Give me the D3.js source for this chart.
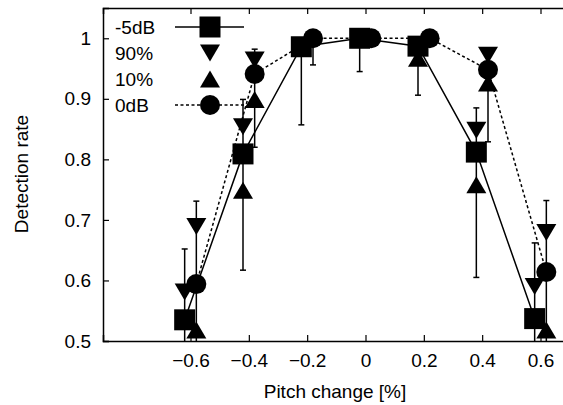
<!DOCTYPE html>
<html lang="en">
<head>
    <meta charset="utf-8">
    <script src="https://d3js.org/d3.v7.min.js"></script>
    <style>
        body { margin: 0; background: #fff; }
        svg text { font-family: "Liberation Sans", Arial, Helvetica, sans-serif; font-size: 19px; fill: #000; }
    </style>
</head>
<body>
<script type="text/javascript">

    // pitch change positions (the two conditions are drawn slightly apart)
    let x5 = [-0.62, -0.42, -0.22, -0.02, 0.18, 0.38, 0.58];
    let x0 = [-0.58, -0.38, -0.18, 0.02, 0.22, 0.42, 0.62];

    // -5dB condition
    let mean5 = [0.535, 0.809, 0.986, 1.0, 0.987, 0.812, 0.537];
    let lo5   = [0.45, 0.617, 0.857, 0.945, 0.906, 0.605, 0.45];
    let hi5   = [0.652, 0.899, 1.0, 1.0, 1.0, 0.885, 0.662];
    let p90_5 = [0.581, 0.854, null, null, null, 0.848, 0.590];
    let p10_5 = [null, 0.749, null, null, 0.967, 0.758, null];

    // 0dB condition
    let mean0 = [0.594, 0.941, 1.0, 1.0, 1.0, 0.948, 0.614];
    let lo0   = [0.45, 0.820, 0.956, 1.0, 1.0, 0.829, 0.45];
    let hi0   = [0.731, 0.982, 1.0, 1.0, 1.0, 0.982, 0.732];
    let p90_0 = [0.689, 0.964, null, null, null, 0.972, 0.679];
    let p10_0 = [0.518, 0.899, null, null, null, 0.926, 0.518];

    let xTicks = [-0.6, -0.4, -0.2, 0, 0.2, 0.4, 0.6];
    let yTicks = [0.5, 0.6, 0.7, 0.8, 0.9, 1];
    let legendNames = ["-5dB", "90%", "10%", "0dB"];

    let w = 563;
    let h = 405;

    let x = d3.scaleLinear().domain([-0.9, 0.9]).range([103, 628]);
    let y = d3.scaleLinear().domain([0.5, 1.05]).range([341, 8]);

    let svg = d3.select("body").append("svg")
                .attr("width", w)
                .attr("height", h);

    svg.append("clipPath").attr("id", "plotclip")
        .append("rect")
        .attr("x", 103).attr("y", 8)
        .attr("width", 525).attr("height", 333);

    // axes, ticks pointing inward
    let fmt = function(d) { return d === 0 ? "0" : (d === 1 ? "1" : d3.format(".1f")(d)); };

    let gx = svg.append("g").attr("transform", "translate(0,341)")
        .call(d3.axisBottom(x).tickValues(xTicks).tickSize(-6).tickPadding(13).tickFormat(fmt));
    let gxt = svg.append("g").attr("transform", "translate(0,8)")
        .call(d3.axisTop(x).tickValues(xTicks).tickSize(-6).tickFormat(""));
    let gy = svg.append("g").attr("transform", "translate(103,0)")
        .call(d3.axisLeft(y).tickValues(yTicks).tickSize(-6).tickPadding(12).tickFormat(fmt));

    [gx, gxt, gy].forEach(function(g) {
        g.select(".domain").attr("stroke", "#000").attr("stroke-width", 1.5);
        g.selectAll(".tick line").attr("stroke", "#000").attr("stroke-width", 1.2);
        g.selectAll("text").attr("font-size", null).attr("font-family", null);
    });

    svg.append("text").attr("x", 335).attr("y", 398)
        .attr("text-anchor", "middle").text("Pitch change [%]");
    svg.append("text").attr("transform", "translate(28,174) rotate(-90)")
        .attr("text-anchor", "middle").text("Detection rate");

    // marker shapes
    let square = d3.symbol().type(d3.symbolSquare).size(21 * 21);
    let circle = d3.symbol().type(d3.symbolCircle).size(Math.PI * 10 * 10);
    let triDown = "M-10,-8.5L10,-8.5L0,8.5Z";
    let triUp = "M-10,8.5L10,8.5L0,-8.5Z";

    let plot = svg.append("g").attr("clip-path", "url(#plotclip)");

    function drawSeries(xs, mean, lo, hi, p90, p10, shape, dash) {
        let pts = xs.map(function(d, i) {
            return {x: d, m: mean[i], lo: lo[i], hi: hi[i], p90: p90[i], p10: p10[i]};
        });

        let line = d3.line().x(function(d) { return x(d.x); }).y(function(d) { return y(d.m); });
        plot.append("path").datum(pts)
            .attr("d", line)
            .attr("fill", "none")
            .attr("stroke", "#000")
            .attr("stroke-width", 1.5)
            .attr("stroke-dasharray", dash);

        let eb = plot.append("g").attr("stroke", "#000").attr("stroke-width", 1.5);
        pts.forEach(function(d) {
            if (d.hi - d.lo < 0.001) return;
            eb.append("line").attr("x1", x(d.x)).attr("x2", x(d.x))
                .attr("y1", y(d.lo)).attr("y2", y(d.hi));
            [d.lo, d.hi].forEach(function(v) {
                eb.append("line").attr("x1", x(d.x) - 3).attr("x2", x(d.x) + 3)
                    .attr("y1", y(v)).attr("y2", y(v));
            });
        });

        plot.append("g").selectAll("path").data(pts.filter(function(d) { return d.p90 !== null; }))
            .join("path")
            .attr("d", triDown)
            .attr("transform", function(d) { return "translate(" + x(d.x) + "," + y(d.p90) + ")"; });
        plot.append("g").selectAll("path").data(pts.filter(function(d) { return d.p10 !== null; }))
            .join("path")
            .attr("d", triUp)
            .attr("transform", function(d) { return "translate(" + x(d.x) + "," + y(d.p10) + ")"; });

        plot.append("g").selectAll("path").data(pts)
            .join("path")
            .attr("d", shape)
            .attr("transform", function(d) { return "translate(" + x(d.x) + "," + y(d.m) + ")"; });
    }

    drawSeries(x5, mean5, lo5, hi5, p90_5, p10_5, square, null);
    drawSeries(x0, mean0, lo0, hi0, p90_0, p10_0, circle, "3,2.5");

    // legend
    let legY = [27, 53, 79, 105];
    let leg = svg.append("g");
    leg.selectAll("text").data(legendNames).join("text")
        .attr("x", 115).attr("y", function(d, i) { return legY[i] + 7; })
        .text(function(d) { return d; });

    leg.append("line").attr("x1", 175).attr("x2", 244).attr("y1", legY[0]).attr("y2", legY[0])
        .attr("stroke", "#000").attr("stroke-width", 1.5);
    leg.append("path").attr("d", square).attr("transform", "translate(210," + legY[0] + ")");
    leg.append("path").attr("d", triDown).attr("transform", "translate(210," + legY[1] + ")");
    leg.append("path").attr("d", triUp).attr("transform", "translate(210," + legY[2] + ")");
    leg.append("line").attr("x1", 175).attr("x2", 244).attr("y1", legY[3]).attr("y2", legY[3])
        .attr("stroke", "#000").attr("stroke-width", 1.5).attr("stroke-dasharray", "3,2.5");
    leg.append("path").attr("d", circle).attr("transform", "translate(210," + legY[3] + ")");

</script>
</body>
</html>
